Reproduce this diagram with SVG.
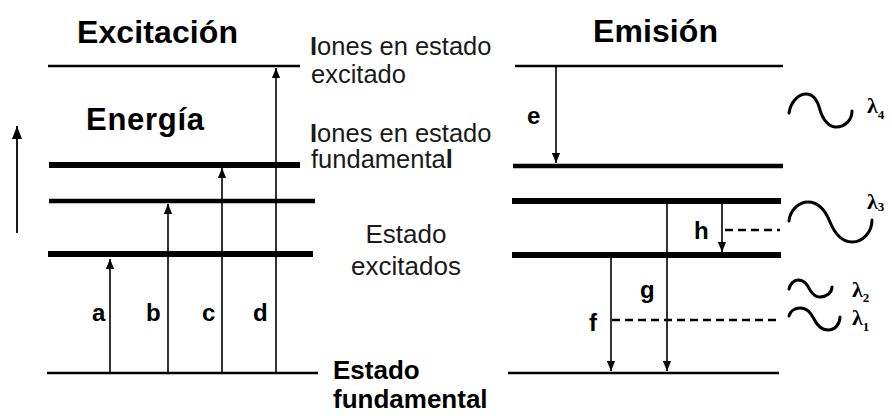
<svg xmlns="http://www.w3.org/2000/svg" width="892" height="416" viewBox="0 0 892 416">
<defs>
<style>
.lvl{stroke:#000;fill:none}
.thin{stroke-width:2.5}
.thick{stroke-width:6}
.mid{stroke-width:4.5}
.arr{stroke:#000;stroke-width:1.6;fill:none;marker-end:url(#ah)}
.dash{stroke:#000;stroke-width:2.5;stroke-dasharray:8 5;fill:none}
.wave{stroke:#000;stroke-width:3;fill:none;stroke-linecap:round}
.h{font-family:"Liberation Sans",Arial,sans-serif;font-weight:bold;fill:#000}
.t{font-family:"Liberation Sans",Arial,sans-serif;fill:#1a1a1a}
.lab{font-family:"Liberation Sans",Arial,sans-serif;font-weight:bold;font-size:24px;fill:#000}
.lam{font-family:"Liberation Serif","Times New Roman",serif;font-weight:bold;font-size:22px;fill:#000}
.sub{font-size:13px}
</style>
<marker id="ah" markerUnits="userSpaceOnUse" markerWidth="10" markerHeight="9" refX="11" refY="4.5" orient="auto" viewBox="0 0 11 9">
<path d="M0,0 L11,4.5 L0,9 z" fill="#000"/>
</marker>
<marker id="ahBig" markerUnits="userSpaceOnUse" markerWidth="13" markerHeight="10" refX="13" refY="5" orient="auto" viewBox="0 0 13 10">
<path d="M0,0 L13,5 L0,10 z" fill="#000"/>
</marker>
</defs>
<rect width="892" height="416" fill="#fff"/>

<g id="titles">
<text class="h" x="77" y="43" font-size="32" textLength="161" lengthAdjust="spacing">Excitación</text>
<text class="h" x="593" y="42" font-size="32" textLength="125" lengthAdjust="spacing">Emisión</text>
<text class="h" x="86" y="130" font-size="31" textLength="118" lengthAdjust="spacing">Energía</text>
</g>

<g id="energy-axis">
<line x1="17" y1="233" x2="17" y2="126" stroke="#000" stroke-width="1.8" marker-end="url(#ahBig)"/>
</g>

<g id="left-levels">
<line class="lvl thin" x1="48" y1="66" x2="300" y2="66"/>
<line class="lvl thick" x1="49" y1="165" x2="300" y2="165"/>
<line class="lvl mid" x1="49" y1="201" x2="315" y2="201"/>
<line class="lvl thick" x1="48" y1="254" x2="313" y2="254"/>
<line class="lvl thin" x1="47" y1="373" x2="318" y2="373"/>
</g>

<g id="right-levels">
<line class="lvl thin" x1="515" y1="66" x2="783" y2="66"/>
<line class="lvl mid" x1="513" y1="166" x2="783" y2="166"/>
<line class="lvl thick" x1="512" y1="201" x2="781" y2="201"/>
<line class="lvl thick" x1="512" y1="255" x2="781" y2="255"/>
<line class="lvl thin" x1="508" y1="373" x2="779" y2="373"/>
</g>

<g id="connectors">
<line class="arr" x1="110" y1="373" x2="110" y2="259"/>
<line class="arr" x1="168" y1="373" x2="168" y2="204"/>
<line class="arr" x1="222" y1="373" x2="222" y2="168"/>
<line class="arr" x1="276" y1="373" x2="276" y2="68"/>
<line class="arr" x1="556" y1="67" x2="556" y2="163"/>
<line class="arr" x1="722" y1="202" x2="722" y2="252"/>
<line class="arr" x1="667" y1="202" x2="667" y2="371"/>
<line class="arr" x1="611" y1="256" x2="611" y2="371"/>
<line class="dash" x1="725" y1="230" x2="780" y2="230"/>
<line class="dash" x1="612" y1="320" x2="780" y2="320"/>
</g>

<g id="transition-labels">
<text class="lab" x="92" y="321">a</text>
<text class="lab" x="146" y="321">b</text>
<text class="lab" x="202" y="321">c</text>
<text class="lab" x="253" y="321">d</text>
<text class="lab" x="527" y="124">e</text>
<text class="lab" x="694" y="239">h</text>
<text class="lab" x="640" y="298">g</text>
<text class="lab" x="589" y="331">f</text>
</g>

<g id="state-labels">
<text class="t" x="310" y="55" font-size="25.5"><tspan font-weight="bold">I</tspan>ones en estado</text>
<text class="t" x="311" y="83" font-size="25.5">excitado</text>
<text class="t" x="310" y="142" font-size="25.5"><tspan font-weight="bold">I</tspan>ones en estado</text>
<text class="t" x="311" y="168" font-size="25.5">fundamenta<tspan font-weight="bold">l</tspan></text>
<text class="t" x="406" y="243" font-size="26" text-anchor="middle">Estado</text>
<text class="t" x="406" y="275" font-size="26" text-anchor="middle">excitados</text>
<text class="h" x="333" y="379" font-size="26">Estado</text>
<text class="h" x="333" y="408" font-size="26">fundamental</text>
</g>

<g id="photons">
<path class="wave" d="M789,113 C791,100 800,94 806,94 C814,94 818,102 820,110 C823,120 829,127 836,127 C845,127 852,120 852,111"/>
<text class="lam" x="867" y="113">λ<tspan class="sub" dy="6">4</tspan></text>
<path class="wave" d="M789,221 C790,210 799,202 808,202 C820,202 826,212 830,222 C835,234 842,242 852,242 C863,242 872,232 872,220"/>
<text class="lam" x="867" y="209">λ<tspan class="sub" dy="2">3</tspan></text>
<path class="wave" d="M789,289 C790,284 794,280 798,280 C805,280 808,286 810,290 C813,295 816,297 820,297 C826,297 832,293 832,287"/>
<text class="lam" x="852" y="297">λ<tspan class="sub" dy="5">2</tspan></text>
<path class="wave" d="M789,316 C790,311 795,308 800,308 C808,308 811,314 814,319 C817,325 822,330 828,330 C835,330 840,324 840,317"/>
<text class="lam" x="852" y="325">λ<tspan class="sub" dy="6">1</tspan></text>
</g>
</svg>
